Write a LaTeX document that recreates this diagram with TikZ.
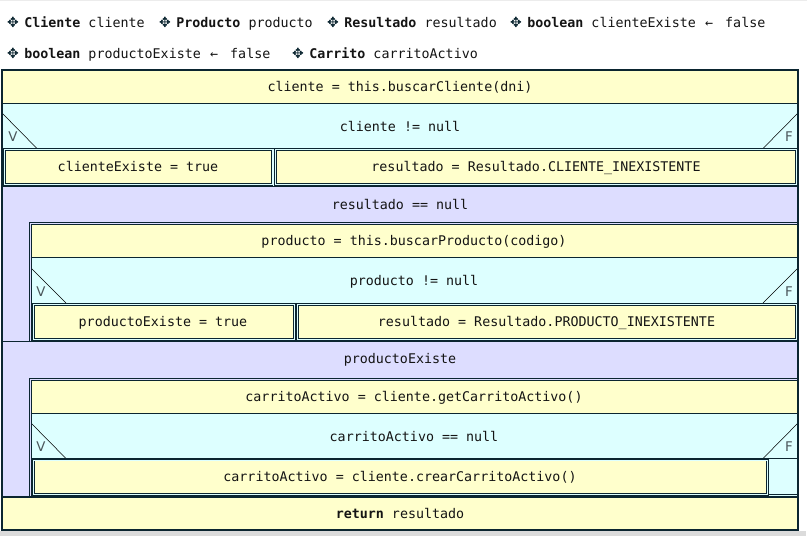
\documentclass[tikz,border=0pt]{standalone}
\usepackage{fontspec}
\setmonofont{DejaVu Sans Mono}
\newfontfamily\symfont{DejaVu Sans}
\usepackage{tikz}
\usetikzlibrary{calc}

\definecolor{stmtfill}{HTML}{FFFFCC}
\definecolor{condfill}{HTML}{DDFFFF}
\definecolor{loopfill}{HTML}{DDDDFF}
\definecolor{edge}{HTML}{0B2530}
\definecolor{txt}{HTML}{141414}
\definecolor{taggray}{HTML}{4A555A}

\tikzset{
    code/.style={font=\ttfamily\fontsize{10}{12}\selectfont, text=txt, inner sep=0pt, anchor=base},
    decl/.style={code, anchor=base west},
    declsym/.style={font=\symfont\fontsize{10.5}{12}\selectfont, text=edge, inner sep=0pt, anchor=center},
    tag/.style={font=\symfont\fontsize{10}{12}\selectfont, text=taggray, inner sep=0pt, anchor=base},
    stmt/.style={fill=stmtfill, draw=edge, line width=0.75pt},
    cond/.style={fill=condfill, draw=edge, line width=0.75pt},
    loopbox/.style={fill=loopfill, draw=edge, line width=0.75pt},
    branch/.style={fill=stmtfill, draw=edge, line width=0.6pt, double=condfill, double distance=0.6pt},
    bodyedge/.style={draw=edge, line width=0.6pt, double=loopfill, double distance=0.6pt},
    diag/.style={draw=black, line width=0.4pt},
    thickrule/.style={draw=edge, line width=1.3pt},
}

\begin{document}
\begin{tikzpicture}[x=0.75pt, y=-0.75pt]
        \useasboundingbox (0,0) rectangle (807,536);
        \fill[white] (0,0) rectangle (807,536);
        \fill[gray!15] (0,0) rectangle (807,1.2);
        \fill[gray!28] (0,531) rectangle (806,536);

        % declarations
        \foreach \nm/\x/\y/\txt in {
            c/8/27/{\textbf{Cliente} cliente},
            p/160/27/{\textbf{Producto} producto},
            r/328/27/{\textbf{Resultado} resultado},
            ce/511/27/{\textbf{boolean} clienteExiste\hspace{7pt}←\hspace{9pt}false},
            pe/8/58/{\textbf{boolean} productoExiste\hspace{7pt}←\hspace{9pt}false},
            ca/293/58/{\textbf{Carrito} carritoActivo}} {
            \node[declsym] (s\nm) at (\x+5,\y-4.5) {✥};
            \node[decl] (d\nm) at (\x+16,\y) {\txt};
        }

        % loops (drawn first, the body goes on top)
        \draw[loopbox] (2,186.5) rectangle (798,341.5);
        \draw[loopbox] (2,341.5) rectangle (798,497);

        % cliente
        \draw[stmt] (2,70) rectangle (798,103.5);
        \draw[cond] (2,103.5) rectangle (798,148.5);
        \draw[diag] (2,113) -- (37,148.5);
        \draw[diag] (798,113) -- (763,148.5);
        \draw[cond] (2,148.5) rectangle (798,186.5);
        \draw[branch] (4.5,149.8) rectangle (272,184.5);
        \draw[branch] (275.5,149.8) rectangle (796.5,184.5);

        % producto
        \draw[stmt] (30.5,223.5) rectangle (798,257.5);
        \draw[cond] (30.5,257.5) rectangle (798,303);
        \draw[diag] (31,268) -- (66,303);
        \draw[diag] (798,268) -- (763,303);
        \draw[cond] (30.5,303) rectangle (798,341);
        \draw[branch] (33.5,304.5) rectangle (294.5,339.3);
        \draw[branch] (297.5,304.5) rectangle (796.5,339.3);
        \draw[bodyedge] (798,223.5) -- (30.5,223.5) -- (30.5,341);

        % carrito
        \draw[stmt] (30.5,379.5) rectangle (798,413.5);
        \draw[cond] (30.5,413.5) rectangle (798,458.5);
        \draw[diag] (31,423) -- (66,458.5);
        \draw[diag] (798,423) -- (763,458.5);
        \draw[cond] (30.5,458.5) rectangle (798,496);
        \draw[cond] (768.5,458.5) rectangle (797,494.8);
        \draw[branch] (33.5,460) rectangle (767.3,494.5);
        \draw[bodyedge] (798,379.5) -- (30.5,379.5) -- (30.5,496);

        % return
        \draw[stmt] (2,497) rectangle (798,530);

        \draw[thickrule] (2,103.5) -- (798,103.5);
        \draw[thickrule] (2,186.5) -- (798,186.5);
        \draw[thickrule] (30.5,257.5) -- (798,257.5);
        \draw[thickrule] (2,341.5) -- (798,341.5);
        \draw[thickrule] (30.5,413.5) -- (798,413.5);
        \draw[thickrule] (2,497) -- (798,497);
        \draw[draw=edge, line width=1pt] (2,70) rectangle (798,530);

        % texts
        \node[code] (stA) at (400,91.5) {cliente = this.buscarCliente(dni)};
        \node[code] (cnd1) at (400,131) {cliente != null};
        \node[code] (br1t) at (138,171.5) {clienteExiste = true};
        \node[code] (br1f) at (536,171.5) {resultado = Resultado.CLIENTE\_INEXISTENTE};
        \node[code] (lp1) at (400,209) {resultado == null};
        \node[code] (stB) at (414,245) {producto = this.buscarProducto(codigo)};
        \node[code] (cnd2) at (414,285) {producto != null};
        \node[code] (br2t) at (163,326.5) {productoExiste = true};
        \node[code] (br2f) at (546.5,326.5) {resultado = Resultado.PRODUCTO\_INEXISTENTE};
        \node[code] (lp2) at (400,363) {productoExiste};
        \node[code] (stC) at (414,401) {carritoActivo = cliente.getCarritoActivo()};
        \node[code] (cnd3) at (414,441) {carritoActivo == null};
        \node[code] (br3t) at (400,481.5) {carritoActivo = cliente.crearCarritoActivo()};
        \node[code] (ret) at (400,518) {\textbf{return} resultado};

        \node[tag] (v1) at (13,141.5) {V};
        \node[tag] (f1) at (789,141.5) {F};
        \node[tag] (v2) at (41,296.5) {V};
        \node[tag] (f2) at (789,296.5) {F};
        \node[tag] (v3) at (41,451.5) {V};
        \node[tag] (f3) at (789,451.5) {F};
\end{tikzpicture}
\end{document}
